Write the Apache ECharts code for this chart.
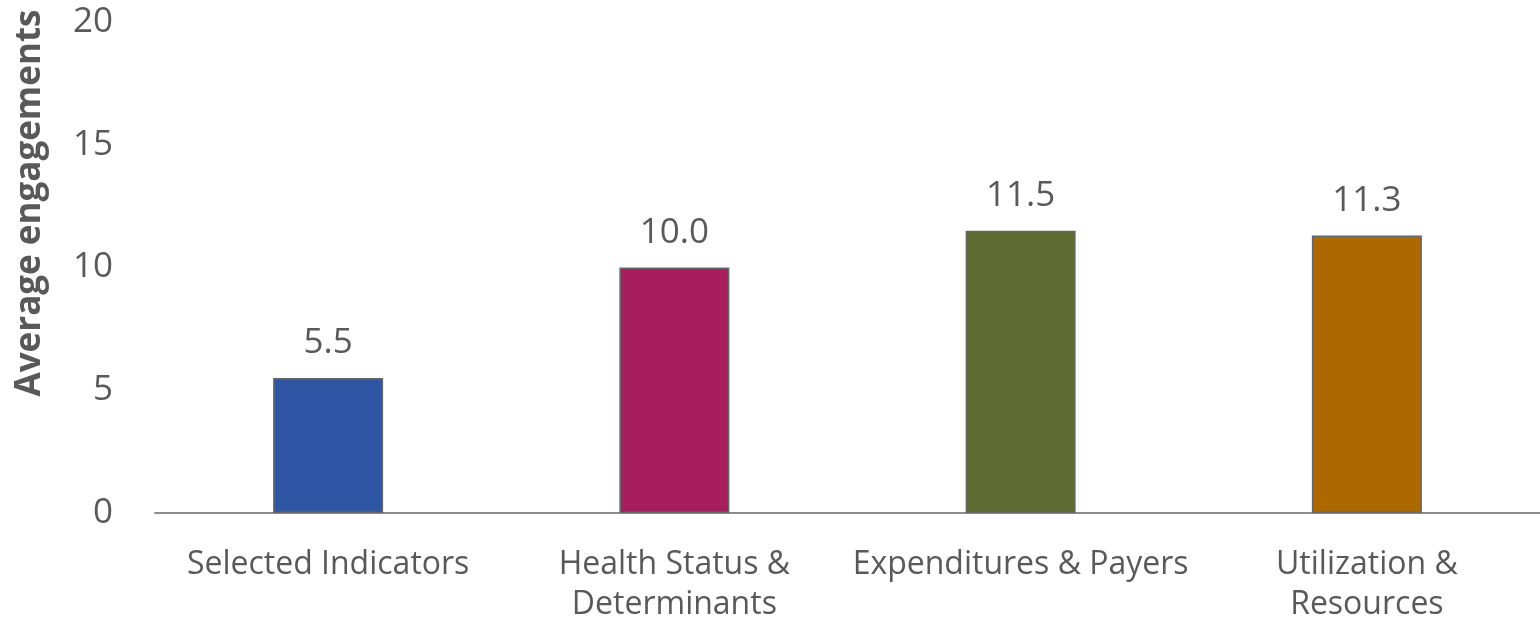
<!DOCTYPE html>
<html>
<head>
<meta charset="utf-8">
<script src="https://cdn.jsdelivr.net/npm/echarts@6/dist/echarts.min.js"></script>
<style>
  html, body { margin: 0; padding: 0; background: #fff; }
  #chart { width: 1540px; height: 619px; }
</style>
</head>
<body>
<div id="chart"></div>
<script>
// chart data
var categories = ['Selected Indicators', 'Health Status &\nDeterminants', 'Expenditures & Payers', 'Utilization &\nResources'];
var avgEngagements = [5.5, 10.0, 11.5, 11.3];
var barColors = ['#2E56A4', '#A61E5D', '#5D6B32', '#AD6800'];
var yTicks = [0, 5, 10, 15, 20];

var font = '"Open Sans", "Noto Sans", sans-serif';
var myChart = echarts.init(document.getElementById('chart'));

var option = {
    animation: false,
    grid: {
        left: 155,
        right: 0,
        top: 22,
        bottom: 106,
        containLabel: false,
        outerBoundsMode: 'none'
    },
    graphic: [{
        type: 'text',
        x: 30,
        y: 203,
        rotation: Math.PI / 2,
        style: {
            text: 'Average engagements',
            font: 'bold 35px ' + font,
            fill: '#595959',
            textAlign: 'center',
            textVerticalAlign: 'middle'
        }
    }],
    xAxis: {
        type: 'category',
        data: categories,
        axisTick: { show: false },
        axisLine: {
            lineStyle: { color: '#8c8c8c', width: 2 }
        },
        axisLabel: {
            color: '#595959',
            fontSize: 32,
            fontFamily: font,
            margin: 32,
            lineHeight: 40,
            interval: 0
        }
    },
    yAxis: {
        type: 'value',
        min: yTicks[0],
        max: yTicks[yTicks.length - 1],
        interval: 5,
        splitLine: { show: false },
        axisLine: { show: false },
        axisTick: { show: false },
        axisLabel: {
            color: '#595959',
            fontSize: 35,
            fontFamily: font,
            margin: 42
        }
    },
    series: [{
        type: 'bar',
        barWidth: 110,
        data: avgEngagements.map(function (v, i) {
            return {
                value: v,
                itemStyle: { color: barColors[i] }
            };
        }),
        itemStyle: {
            borderColor: '#666666',
            borderWidth: 1.5
        },
        label: {
            show: true,
            position: 'top',
            distance: 17,
            color: '#595959',
            fontSize: 35,
            fontFamily: font,
            formatter: function (p) { return p.value.toFixed(1); }
        }
    }]
};

myChart.setOption(option);
</script>
</body>
</html>
